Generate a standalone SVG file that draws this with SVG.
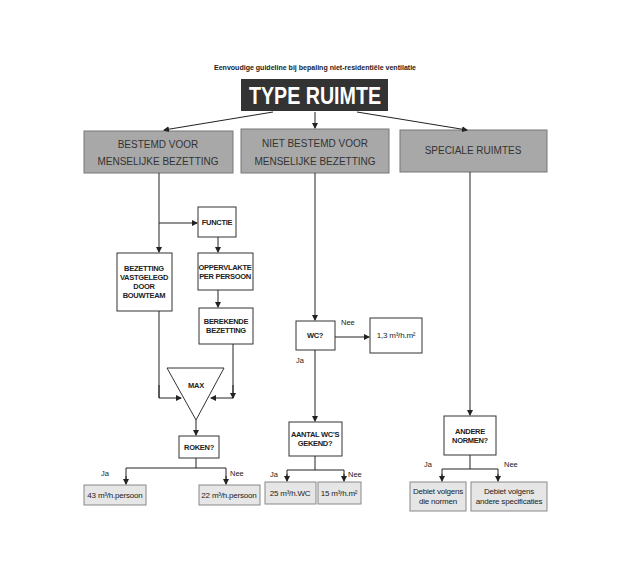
<svg xmlns="http://www.w3.org/2000/svg" width="621" height="582" viewBox="0 0 621 582">
<style>
text{font-family:"Liberation Sans",Arial,sans-serif;fill:#222;text-anchor:middle}
.big{fill:#a8a8a8;stroke:#777;stroke-width:1}
.box{fill:#fff;stroke:#333;stroke-width:1}
.res{fill:#e6e6e6;stroke:#888;stroke-width:1}
.bt{font-size:10px;fill:#333}
.st{font-size:7.5px;font-weight:bold;letter-spacing:-0.3px}
.rt{font-size:8px;letter-spacing:-0.2px}
.lb{font-size:7.5px;text-anchor:start}
.c line,.c polyline{stroke:#222;stroke-width:1;fill:none}
</style>
<defs><marker id="a" markerWidth="6" markerHeight="6" refX="5" refY="3" orient="auto" markerUnits="userSpaceOnUse"><path d="M0,0L6,3L0,6z" fill="#222"/></marker></defs>
<rect width="621" height="582" fill="#fff"/>
<text x="315" y="70" style="font-size:7px;font-weight:bold" textLength="202" lengthAdjust="spacingAndGlyphs">Eenvoudige guideline bij bepaling niet-residentiële ventilatie</text>
<g id="type"><rect x="241" y="79" width="147" height="32" fill="#333"/><text x="315" y="104" style="font-size:24px;font-weight:bold;fill:#fff" textLength="132" lengthAdjust="spacingAndGlyphs">TYPE RUIMTE</text></g>
<g id="n1"><rect class="big" x="84" y="131" width="149" height="42"/><text class="bt" x="158" y="148">BESTEMD VOOR</text><text class="bt" x="158" y="165">MENSELIJKE BEZETTING</text></g>
<g id="n2"><rect class="big" x="241" y="129" width="148" height="44"/><text class="bt" x="315" y="147">NIET BESTEMD VOOR</text><text class="bt" x="315" y="165">MENSELIJKE BEZETTING</text></g>
<g id="n3"><rect class="big" x="400" y="130" width="147" height="42"/><text class="bt" x="473" y="154">SPECIALE RUIMTES</text></g>
<g id="functie"><rect class="box" x="198" y="207" width="38" height="30"/><text class="st" x="217" y="225">FUNCTIE</text></g>
<g id="bezetting"><rect class="box" x="117" y="253" width="55" height="58" stroke="#888"/><text class="st" x="144" y="271">BEZETTING</text><text class="st" x="144" y="280">VASTGELEGD</text><text class="st" x="144" y="289">DOOR</text><text class="st" x="144" y="298">BOUWTEAM</text></g>
<g id="opp"><rect class="box" x="198" y="253" width="55" height="37"/><text class="st" x="225" y="270">OPPERVLAKTE</text><text class="st" x="225" y="279">PER PERSOON</text></g>
<g id="berek"><rect class="box" x="199" y="308" width="54" height="36"/><text class="st" x="226" y="324">BEREKENDE</text><text class="st" x="226" y="333">BEZETTING</text></g>
<g id="max"><polygon points="167,368 224,368 196,420" fill="#fff" stroke="#333"/><text class="st" x="196" y="388">MAX</text></g>
<g id="roken"><rect class="box" x="179" y="436" width="40" height="22"/><text class="st" x="199" y="450">ROKEN?</text></g>
<g id="r43"><rect class="res" x="84" y="485" width="62" height="20"/><text class="rt" x="115" y="498">43 m³/h.persoon</text></g>
<g id="r22"><rect class="res" x="199" y="485" width="61" height="20"/><text class="rt" x="229" y="498">22 m³/h.persoon</text></g>
<g id="wc"><rect class="box" x="296" y="321" width="39" height="29"/><text class="st" x="315" y="338">WC?</text></g>
<g id="r13"><rect class="box" x="370" y="318" width="52" height="35" stroke="#666"/><text class="rt" x="396" y="338">1,3 m³/h.m²</text></g>
<g id="aantal"><rect class="box" x="289" y="422" width="53" height="34"/><text class="st" x="315" y="437">AANTAL WC'S</text><text class="st" x="315" y="446">GEKEND?</text></g>
<g id="r25"><rect class="res" x="265" y="482" width="51" height="22"/><text class="rt" x="290" y="496">25 m³/h.WC</text></g>
<g id="r15"><rect class="res" x="318" y="482" width="43" height="22"/><text class="rt" x="339" y="496">15 m³/h.m²</text></g>
<g id="andere"><rect class="box" x="444" y="416" width="52" height="39" stroke="#666"/><text class="st" x="470" y="434">ANDERE</text><text class="st" x="470" y="443">NORMEN?</text></g>
<g id="d1"><rect class="res" x="410" y="482" width="56" height="29"/><text class="rt" x="438" y="494">Debiet volgens</text><text class="rt" x="438" y="504">die normen</text></g>
<g id="d2"><rect class="res" x="471" y="482" width="76" height="29"/><text class="rt" x="509" y="494">Debiet volgens</text><text class="rt" x="509" y="504">andere specificaties</text></g>
<g class="c">
<line x1="273" y1="112" x2="164" y2="130" marker-end="url(#a)"/>
<line x1="315" y1="112" x2="315" y2="128" marker-end="url(#a)"/>
<line x1="357" y1="112" x2="467" y2="130" marker-end="url(#a)"/>
<line x1="159" y1="173" x2="159" y2="252" marker-end="url(#a)"/>
<line x1="159" y1="223" x2="197" y2="223" marker-end="url(#a)"/>
<line x1="218" y1="237" x2="218" y2="252" marker-end="url(#a)"/>
<line x1="218" y1="290" x2="218" y2="307" marker-end="url(#a)"/>
<line x1="159" y1="311" x2="159" y2="398" stroke="#888"/>
<polyline points="159,385 159,398 181,398" marker-end="url(#a)"/>
<polyline points="233,344 233,398 211,398" marker-end="url(#a)" stroke="#888"/>
<line x1="233" y1="385" x2="233" y2="398" marker-end="url(#a)"/>
<line x1="196" y1="420" x2="196" y2="435" marker-end="url(#a)"/>
<polyline points="196,458 196,468"/>
<polyline points="126,484 126,468 226,468 226,484"/>
<line x1="126" y1="476" x2="126" y2="484" marker-end="url(#a)"/>
<line x1="226" y1="476" x2="226" y2="484" marker-end="url(#a)"/>
<line x1="315" y1="173" x2="315" y2="320" marker-end="url(#a)"/>
<line x1="335" y1="337" x2="369" y2="337" marker-end="url(#a)" stroke="#999"/>
<line x1="315" y1="350" x2="315" y2="421" marker-end="url(#a)"/>
<line x1="315" y1="456" x2="315" y2="470"/>
<polyline points="287,480 287,470 344,470 344,480"/>
<line x1="287" y1="474" x2="287" y2="481" marker-end="url(#a)"/>
<line x1="344" y1="474" x2="344" y2="481" marker-end="url(#a)"/>
<line x1="470" y1="172" x2="470" y2="415" marker-end="url(#a)"/>
<line x1="470" y1="455" x2="470" y2="469"/>
<polyline points="442,480 442,469 498,469 498,480"/>
<line x1="442" y1="474" x2="442" y2="481" marker-end="url(#a)"/>
<line x1="498" y1="474" x2="498" y2="481" marker-end="url(#a)"/>
</g>
<g id="labels">
<text class="lb" x="101" y="476">Ja</text><text class="lb" x="230" y="476">Nee</text>
<text class="lb" x="341" y="325">Nee</text><text class="lb" x="296" y="363">Ja</text>
<text class="lb" x="270" y="477">Ja</text><text class="lb" x="348" y="477">Nee</text>
<text class="lb" x="424" y="467">Ja</text><text class="lb" x="504" y="467">Nee</text>
</g>
</svg>
